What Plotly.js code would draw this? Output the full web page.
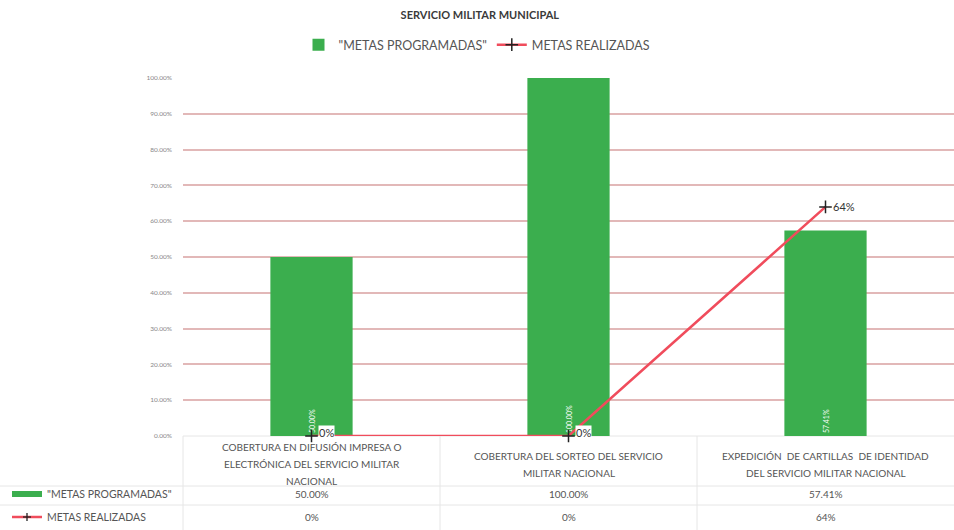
<!DOCTYPE html>
<html>
<head>
<meta charset="utf-8">
<script src="https://cdn.plot.ly/plotly-3.0.1.min.js"></script>
<style>html,body{margin:0;padding:0;background:#fff;}#chart{width:954px;height:530px;}</style>
</head>
<body>
<div id="chart"></div>
<script>
// ---- data ----
const categories = [
  "COBERTURA EN DIFUSIÓN IMPRESA O<br>ELECTRÓNICA DEL SERVICIO MILITAR<br>NACIONAL",
  "COBERTURA DEL SORTEO DEL SERVICIO<br>MILITAR NACIONAL",
  "EXPEDICIÓN  DE CARTILLAS  DE IDENTIDAD<br>DEL SERVICIO MILITAR NACIONAL"
];
const metasProgramadas = [0.50, 1.00, 0.5741];
const metasRealizadas = [0, 0, 0.64];
const seriesNames = ['"METAS PROGRAMADAS"', 'METAS REALIZADAS'];
const chartTitle = 'SERVICIO MILITAR MUNICIPAL';

// ---- layout helpers ----
const W = 954, H = 530;
const plotTop = 78, plotBottom = 436, plotLeft = 183;
const py = p => (plotBottom - p) / (plotBottom - plotTop);   // pixel y -> paper y
const xd = p => p / W;                                        // pixel x -> paper x
const FONT = 'Lato, "Open Sans", sans-serif';
const GREEN = '#3bae4e', RED = '#f04c5c';

const pct2 = v => (v * 100).toFixed(2) + '%';
const pct0 = v => Math.round(v * 100) + '%';

const traces = [
  {
    type: 'bar', name: seriesNames[0], x: categories, y: metasProgramadas,
    marker: {color: GREEN}, width: 0.32,
    text: metasProgramadas.map(pct2), textposition: 'inside', insidetextanchor: 'start',
    textangle: -90, textfont: {family: FONT, size: 7, color: '#ffffff'},
    hoverinfo: 'skip'
  },
  {
    type: 'scatter', mode: 'lines+markers', name: seriesNames[1], x: categories, y: metasRealizadas,
    cliponaxis: false,
    line: {color: RED, width: 2.5},
    marker: {symbol: 'cross-thin', size: 9, color: '#222', line: {color: '#222', width: 1.5}},
    hoverinfo: 'skip'
  }
];

const annotations = [];
// point labels for realizadas
metasRealizadas.forEach((v, i) => {
  annotations.push({
    x: categories[i], y: v, xref: 'x', yref: 'y', text: pct0(v), showarrow: false,
    xanchor: 'left', yanchor: 'middle', xshift: 6, yshift: v === 0 ? 4 : 0,
    bgcolor: '#ffffff', borderpad: 0,
    font: {family: FONT, size: 11, color: '#333'}
  });
});
// data table: category rows (per line)
categories.forEach((c, i) => {
  const lines = c.split('<br>');
  const center = 464, sp = 17;
  lines.forEach((ln, k) => {
    const yy = center + (k - (lines.length - 1) / 2) * sp;
    annotations.push({
      x: categories[i], y: py(yy), xref: 'x', yref: 'paper', text: ln, showarrow: false,
      xanchor: 'center', yanchor: 'middle', font: {family: FONT, size: 10, color: '#555'}
    });
  });
  annotations.push({
    x: categories[i], y: py(494), xref: 'x', yref: 'paper', text: pct2(metasProgramadas[i]),
    showarrow: false, xanchor: 'center', yanchor: 'middle', font: {family: FONT, size: 10, color: '#555'}
  });
  annotations.push({
    x: categories[i], y: py(517), xref: 'x', yref: 'paper', text: pct0(metasRealizadas[i]),
    showarrow: false, xanchor: 'center', yanchor: 'middle', font: {family: FONT, size: 10, color: '#555'}
  });
});
// table row headers (paper x spans the whole width since l/r margins are 0)
annotations.push({x: xd(45), y: py(494), xref: 'paper', yref: 'paper', text: seriesNames[0], showarrow: false,
  xanchor: 'left', yanchor: 'middle', font: {family: FONT, size: 10.5, color: '#555'}});
annotations.push({x: xd(45), y: py(517), xref: 'paper', yref: 'paper', text: seriesNames[1], showarrow: false,
  xanchor: 'left', yanchor: 'middle', font: {family: FONT, size: 10.5, color: '#555'}});

const GL = {color: '#e6e6e6', width: 1};
const c1 = plotLeft + (W - plotLeft) / 3, c2 = plotLeft + 2 * (W - plotLeft) / 3;
const shapes = [
  // table grid (below the traces)
  {type: 'line', layer: 'below', xref: 'paper', yref: 'paper', x0: xd(plotLeft), x1: 1, y0: py(436), y1: py(436), line: GL},
  {type: 'line', layer: 'below', xref: 'paper', yref: 'paper', x0: 0, x1: 1, y0: py(486), y1: py(486), line: GL},
  {type: 'line', layer: 'below', xref: 'paper', yref: 'paper', x0: 0, x1: 1, y0: py(505), y1: py(505), line: GL},
  {type: 'line', layer: 'below', xref: 'paper', yref: 'paper', x0: xd(plotLeft), x1: xd(plotLeft), y0: py(436), y1: py(530), line: GL},
  {type: 'line', layer: 'below', xref: 'paper', yref: 'paper', x0: xd(c1), x1: xd(c1), y0: py(436), y1: py(530), line: GL},
  {type: 'line', layer: 'below', xref: 'paper', yref: 'paper', x0: xd(c2), x1: xd(c2), y0: py(436), y1: py(530), line: GL},
  // table legend keys
  {type: 'rect', xref: 'paper', yref: 'paper', x0: xd(12), x1: xd(42), y0: py(497), y1: py(491),
    fillcolor: GREEN, line: {width: 0}},
  {type: 'line', xref: 'paper', yref: 'paper', x0: xd(12), x1: xd(42), y0: py(517), y1: py(517),
    line: {color: RED, width: 2.5}},
  {type: 'line', xref: 'paper', yref: 'paper', x0: xd(27), x1: xd(27), y0: py(513), y1: py(521),
    line: {color: '#222', width: 1.3}},
  {type: 'line', xref: 'paper', yref: 'paper', x0: xd(23), x1: xd(31), y0: py(517), y1: py(517),
    line: {color: '#222', width: 1.3}}
];

const layout = {
  width: W, height: H,
  margin: {l: 0, r: 0, t: plotTop, b: H - plotBottom, pad: 0},
  paper_bgcolor: '#ffffff', plot_bgcolor: '#ffffff',
  title: {text: '<b>' + chartTitle + '</b>', x: 0.503, xanchor: 'center', y: 1 - 15 / H, yanchor: 'middle',
    font: {family: FONT, size: 11, color: '#3a3a3a'}},
  showlegend: true,
  legend: {orientation: 'h', x: 0.5, xanchor: 'center', y: py(45), yanchor: 'middle',
    font: {family: FONT, size: 12.5, color: '#555'}, itemwidth: 30, traceorder: 'normal', bgcolor: 'rgba(0,0,0,0)'},
  xaxis: {domain: [plotLeft / W, 1], type: 'category', showticklabels: false, showgrid: false,
    zeroline: false, showline: false, ticks: '', fixedrange: true},
  yaxis: {range: [0, 1], tickvals: [0, 0.1, 0.2, 0.3, 0.4, 0.5, 0.6, 0.7, 0.8, 0.9, 1.0],
    tickformat: '.2%', showgrid: true, gridcolor: '#e2b8b8', gridwidth: 2, zeroline: false,
    showline: false, ticks: '', ticklabelstandoff: 10,
    tickfont: {family: FONT, size: 6.5, color: '#888'}, fixedrange: true},
  annotations: annotations,
  shapes: shapes
};

Plotly.newPlot('chart', traces, layout, {displayModeBar: false, staticPlot: true});
</script>
</body>
</html>
